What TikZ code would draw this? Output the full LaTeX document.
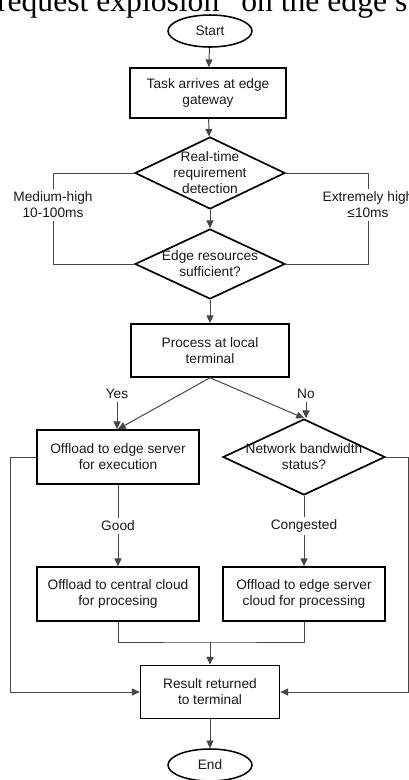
\documentclass[tikz,border=0pt]{standalone}
\usepackage{fontspec}
\setmainfont{Liberation Sans}
\newfontfamily\serifcap{Liberation Serif}
\usetikzlibrary{arrows.meta, shapes.geometric, positioning}
\definecolor{inkline}{RGB}{70,70,70}
\definecolor{inktext}{RGB}{25,25,25}
\newcommand{\flowfont}{\fontsize{9.75}{11.4}\selectfont}

\begin{document}
\begin{tikzpicture}[
    box/.style={rectangle, draw=black, line width=1.2pt, align=center,
                minimum width=4.05cm, minimum height=1.35cm, inner sep=2pt,
                text=inktext, font=\flowfont},
    term/.style={ellipse, draw=black, line width=1.1pt, minimum width=2.1cm,
                 minimum height=0.8cm, inner sep=0pt, text=inktext, font=\flowfont},
    dec/.style={diamond, draw=black, line width=1.2pt, minimum width=3.75cm,
                minimum height=1.8cm, inner sep=0pt, label={[lbl]center:#1}},
    lbl/.style={align=center, inner sep=0pt, text=inktext, font=\flowfont},
    note/.style={align=center, inner sep=2pt, text=inktext, font=\flowfont},
    line/.style={draw=inkline, line width=0.7pt},
    arr/.style={line, -{Triangle[length=5.5pt, width=5pt]}}
]
    \useasboundingbox (0,0) rectangle (10.225,-19.5);
    \clip (0,0) rectangle (10.225,-19.5);
    \fill[white] (0,0) rectangle (10.225,-19.5);

    % caption cut off at the top
    \node[anchor=base west, inner sep=0pt, font=\serifcap\fontsize{22.5}{27}\selectfont]
        (cap) at (-0.08,-0.29) {request explosion” on the edge s};

    % main column
    \node[term] (start) at (5.25,-0.775) {Start};
    \node[box, minimum width=3.9cm, minimum height=1.25cm] (arrive) at (5.2,-2.325) {Task arrives at edge\\gateway};
    \node[dec={Real-time\\requirement\\detection}] (rtd) at (5.25,-4.325) {};
    \node[dec={Edge resources\\sufficient?}, minimum height=1.75cm] (res) at (5.25,-6.6) {};
    \node[box, minimum width=3.95cm, minimum height=1.325cm] (local) at (5.25,-8.76) {Process at local\\terminal};
    \node[box] (edge) at (2.95,-11.425) {Offload to edge server\\for execution};
    \node[dec={Network bandwidth\\status?}, minimum width=4.05cm, minimum height=1.9cm] (net) at (7.6,-11.425) {};
    \node[box] (cloud) at (2.95,-14.85) {Offload to central cloud\\for procesing};
    \node[box] (edgecloud) at (7.6,-14.85) {Offload to edge server\\cloud for processing};
    \node[box, minimum width=3.475cm, minimum height=1.325cm] (result) at (5.25,-17.3) {Result returned\\to terminal};
    \node[term] (end) at (5.25,-19.125) {End};

    % branch labels
    \node[note] (med) at (1.325,-5.125) {Medium-high\\10-100ms};
    \node[note] (ext) at (9.2,-5.125) {Extremely high\\≤10ms};
    \node[note] (yes) at (2.925,-9.85) {Yes};
    \node[note] (no) at (7.65,-9.85) {No};
    \node[note] (good) at (2.95,-13.15) {Good};
    \node[note] (cong) at (7.6,-13.15) {Congested};
    \coordinate (mrg) at (5.25,-16.05);

    \draw[arr] (start) -- (arrive);
    \draw[arr] (arrive) -- (rtd);
    \draw[arr] (rtd) -- (res);
    \draw[arr] (res) -- (local);
    \draw[line] (rtd.west) -| (med.north);
    \draw[line] (med.south) |- (res.west);
    \draw[line] (rtd.east) -| (ext.north);
    \draw[line] (ext.south) |- (res.east);
    \draw[arr] (local.south) -- (edge.north);
    \draw[arr] (local.south) -- (net.north);
    \draw[arr] (yes.south) -- (yes.south |- edge.north);
    \draw[arr] (no.south) -- (no.south |- net.north);
    \draw[line] (edge.south) -- (good.north);
    \draw[arr] (good.south) -- (cloud.north);
    \draw[line] (net.south) -- (cong.north);
    \draw[arr] (cong.south) -- (edgecloud.north);
    \draw[line] (cloud.south) |- (mrg) -| (edgecloud.south);
    \draw[arr] (mrg) -- (result.north);
    \draw[arr] (edge.west) -- ++(-0.65,0) |- (result.west);
    \draw[arr] (net.east) -- ++(0.575,0) |- (result.east);
    \draw[arr] (result) -- (end);
\end{tikzpicture}
\end{document}
